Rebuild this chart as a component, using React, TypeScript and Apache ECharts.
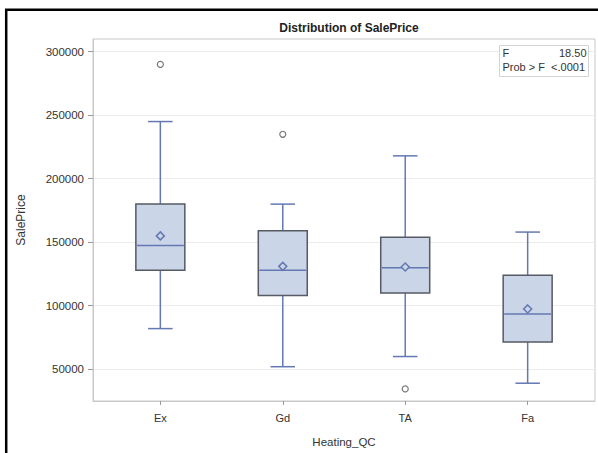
import React, { useEffect, useRef } from "react";
import * as echarts from "echarts";

const categories = ["Ex", "Gd", "TA", "Fa"];
const lowWhisker = [82000, 52000, 60000, 39000];
const q1 = [128000, 108000, 110000, 71500];
const median = [147500, 128000, 130000, 93500];
const q3 = [180000, 159000, 154000, 124000];
const highWhisker = [245000, 180000, 218000, 158000];
const means = [155000, 131000, 130500, 97500];
const outliers: [number, number][] = [
  [0, 290000],
  [1, 235000],
  [2, 34500],
];
const yTicks = [50000, 100000, 150000, 200000, 250000, 300000];
const fStat = "18.50";
const pValue = "<.0001";

export default function App() {
  const ref = useRef<HTMLDivElement>(null);
  useEffect(() => {
    if (!ref.current) return;
    const chart = echarts.init(ref.current, null, { renderer: "svg" });
    const boxData = categories.map((_, i) => [
      i,
      lowWhisker[i],
      q1[i],
      median[i],
      q3[i],
      highWhisker[i],
      means[i],
    ]);
    const blue = "#6478b3";
    const boxFill = "#cbd5e8";
    const boxBorder = "#555a63";
    const frame = "#c8c8c8";
    const font = "Liberation Sans, Arial, sans-serif";

    chart.setOption({
      animation: false,
      backgroundColor: "#fff",
      title: {
        text: "Distribution of SalePrice",
        left: 344,
        textAlign: "center",
        top: 17,
        textStyle: { fontSize: 12, fontWeight: "bold", color: "#222", fontFamily: font },
      },
      grid: {
        left: 93,
        right: 3,
        top: 39,
        bottom: 51,
        show: true,
        borderColor: frame,
        borderWidth: 1,
      },
      xAxis: {
        type: "value",
        min: -0.55,
        max: 3.55,
        name: "Heating_QC",
        nameLocation: "middle",
        nameGap: 35,
        nameTextStyle: { fontSize: 11.5, color: "#333", fontFamily: font },
        axisLine: { show: true, onZero: false, lineStyle: { color: frame, width: 1 } },
        splitLine: { show: false },
        axisTick: { show: true, length: 4, lineStyle: { color: "#999" }, customValues: [0, 1, 2, 3] },
        axisLabel: {
          customValues: [0, 1, 2, 3],
          formatter: (v: number) => categories[Math.round(v)] ?? "",
          fontSize: 11,
          color: "#333",
          margin: 11,
          fontFamily: font,
        },
      },
      yAxis: {
        type: "value",
        min: 25000,
        max: 310000,
        name: "SalePrice",
        nameLocation: "middle",
        nameGap: 66,
        nameTextStyle: { fontSize: 12, color: "#333", fontFamily: font },
        axisLine: { show: true, onZero: false, lineStyle: { color: frame, width: 1 } },
        axisTick: { show: true, length: 5, lineStyle: { color: "#999" }, customValues: yTicks },
        splitLine: { show: true, lineStyle: { color: "#ececec", width: 1 } },
        axisLabel: {
          customValues: yTicks,
          formatter: (v: number) => String(v),
          fontSize: 11.5,
          color: "#333",
          margin: 9,
          fontFamily: font,
        },
      },
      series: [
        {
          type: "custom",
          data: boxData,
          encode: { x: 0, y: [1, 2, 3, 4, 5, 6] },
          renderItem: (params: any, api: any) => {
            const x = api.value(0);
            const lo = api.coord([x, api.value(1)]);
            const b1 = api.coord([x, api.value(2)]);
            const md = api.coord([x, api.value(3)]);
            const b3 = api.coord([x, api.value(4)]);
            const hi = api.coord([x, api.value(5)]);
            const mn = api.coord([x, api.value(6)]);
            const bw = api.size([0.4, 0])[0];
            const cw = api.size([0.2, 0])[0];
            const cx = lo[0];
            const lineStyle = { stroke: blue, lineWidth: 1.5 };
            const d = 4;
            return {
              type: "group",
              children: [
                { type: "line", shape: { x1: cx, y1: b1[1], x2: cx, y2: lo[1] }, style: lineStyle },
                { type: "line", shape: { x1: cx, y1: b3[1], x2: cx, y2: hi[1] }, style: lineStyle },
                { type: "line", shape: { x1: cx - cw / 2, y1: lo[1], x2: cx + cw / 2, y2: lo[1] }, style: lineStyle },
                { type: "line", shape: { x1: cx - cw / 2, y1: hi[1], x2: cx + cw / 2, y2: hi[1] }, style: lineStyle },
                {
                  type: "rect",
                  shape: { x: cx - bw / 2, y: b3[1], width: bw, height: b1[1] - b3[1] },
                  style: { fill: boxFill, stroke: boxBorder, lineWidth: 1.5 },
                },
                { type: "line", shape: { x1: cx - bw / 2 + 1, y1: md[1], x2: cx + bw / 2 - 1, y2: md[1] }, style: lineStyle },
                {
                  type: "polygon",
                  shape: {
                    points: [
                      [cx, mn[1] - d],
                      [cx + d, mn[1]],
                      [cx, mn[1] + d],
                      [cx - d, mn[1]],
                    ],
                  },
                  style: { fill: boxFill, stroke: blue, lineWidth: 1.5 },
                },
              ],
            };
          },
        },
        {
          type: "scatter",
          data: outliers,
          symbol: "circle",
          symbolSize: 6,
          itemStyle: { color: "#fff", borderColor: "#555", borderWidth: 1.2 },
        },
      ],
      graphic: [
        {
          type: "rect",
          z: 100,
          shape: { x: 6.2, y: 9.8, width: 700, height: 700 },
          style: { fill: "none", stroke: "#000", lineWidth: 2.5 },
          silent: true,
        },
        {
          type: "group",
          z: 100,
          left: 499,
          top: 45,
          children: [
            {
              type: "rect",
              z: 100,
              shape: { x: 0, y: 0, width: 89, height: 31 },
              style: { fill: "#fff", stroke: "#d4d4d4", lineWidth: 1 },
            },
            { type: "text", z: 101, x: 3, y: 2, style: { text: "F", fontSize: 11, fill: "#333", fontFamily: font } },
            {
              type: "text",
              z: 101,
              x: 87,
              y: 2,
              style: { text: fStat, fontSize: 11, fill: "#333", textAlign: "right", fontFamily: font },
            },
            {
              type: "text",
              z: 101,
              x: 3,
              y: 16,
              style: { text: "Prob > F  " + pValue, fontSize: 11, fill: "#333", fontFamily: font },
            },
          ],
        },
      ],
    });
    return () => chart.dispose();
  }, []);
  return (
    <div
      ref={ref}
      style={{ position: "fixed", left: 0, top: 0, width: 598, height: 453, background: "#fff" }}
    />
  );
}
